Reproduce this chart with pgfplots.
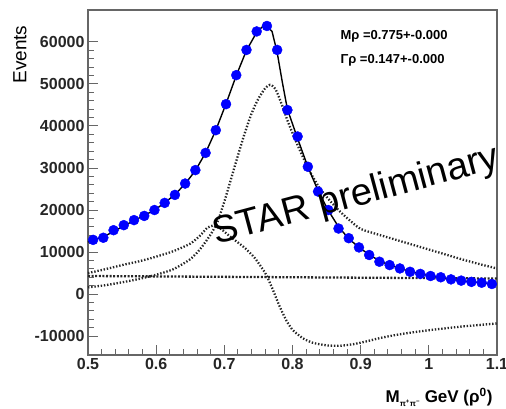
\documentclass[border=0pt]{standalone}
\usepackage{pgfplots}
\pgfplotsset{compat=1.18}
\usepackage{fontspec}
\setmainfont{Liberation Sans}

\pgfplotstableread{
x y
0.5075 12.9
0.5225 13.4
0.5375 15.2
0.5525 16.4
0.5675 17.6
0.5825 18.6
0.5975 20.0
0.6125 21.7
0.6275 23.6
0.6425 26.3
0.6575 29.5
0.6725 33.6
0.6875 39.0
0.7025 45.2
0.7175 52.1
0.7325 58.1
0.7475 62.5
0.7625 63.8
0.7775 58.1
0.7925 43.8
0.8075 37.5
0.8225 30.3
0.8375 24.4
0.8525 20.0
0.8675 15.6
0.8825 13.3
0.8975 11.1
0.9125 9.3
0.9275 7.7
0.9425 6.9
0.9575 6.1
0.9725 5.3
0.9875 4.8
1.0025 4.3
1.0175 4.0
1.0325 3.5
1.0475 3.2
1.0625 2.9
1.0775 2.7
1.0925 2.4
}\datatable

\pgfplotstableread{
x y
0.500 12.4
0.5075 12.9
0.5225 13.6
0.5375 14.9
0.5525 16.2
0.5675 17.5
0.5825 18.7
0.5975 20.0
0.6125 21.7
0.6275 23.7
0.6425 26.2
0.6575 29.4
0.6725 33.6
0.6875 39.0
0.7025 45.3
0.7175 52.0
0.7325 58.0
0.7475 62.3
0.755 63.5
0.7625 63.8
0.770 62.5
0.7775 57.5
0.785 50.5
0.7925 44.0
0.8075 37.0
0.8225 30.3
0.8375 24.6
0.8525 19.9
0.8675 16.0
0.8825 13.2
0.8975 11.1
0.9125 9.4
0.9275 7.9
0.9425 6.9
0.9575 6.1
0.9725 5.4
0.9875 4.8
1.0025 4.3
1.0175 3.9
1.0325 3.5
1.0475 3.2
1.0625 2.9
1.0775 2.7
1.0925 2.4
1.100 2.3
}\fittable

\pgfplotstableread{
x y
0.500 1.6
0.525 2.1
0.550 2.8
0.575 3.6
0.600 4.6
0.625 5.9
0.650 8.3
0.665 10.8
0.680 14.2
0.690 17.2
0.700 22.0
0.710 27.5
0.720 33.0
0.730 38.3
0.740 43.0
0.750 46.5
0.760 49.0
0.767 49.8
0.775 48.8
0.785 44.8
0.795 40.3
0.810 34.5
0.825 29.3
0.840 25.2
0.855 22.2
0.870 19.6
0.885 17.4
0.900 15.5
0.925 14.2
0.950 13.0
0.975 11.8
1.000 10.6
1.025 9.4
1.050 8.2
1.075 7.1
1.100 6.1
}\bwtable

\pgfplotstableread{
x y
0.500 5.0
0.525 5.9
0.550 6.9
0.575 7.8
0.600 8.9
0.625 10.2
0.650 12.0
0.665 14.0
0.675 15.8
0.685 16.3
0.695 15.5
0.710 13.5
0.730 11.0
0.745 8.5
0.760 5.0
0.770 1.5
0.780 -2.5
0.790 -6.0
0.800 -8.5
0.815 -10.5
0.830 -11.6
0.850 -12.2
0.870 -12.3
0.890 -11.9
0.910 -11.2
0.930 -10.4
0.960 -9.5
1.000 -8.6
1.050 -7.7
1.100 -7.0
}\inttable

\pgfplotstableread{
x y
0.5 4.3
0.6 4.2
0.7 4.1
0.8 4.0
0.9 3.9
1.0 3.8
1.1 3.7
}\bkgtable

\begin{document}
\begin{tikzpicture}
\useasboundingbox (-88pt,-53pt) rectangle (418pt,355pt);
\begin{axis}[
  at={(0pt,0pt)}, anchor=south west,
  scale only axis, width=409pt, height=345pt,
  xmin=0.5, xmax=1.1, ymin=-14.5, ymax=67.6,
  axis line style={black!60, line width=1.2pt},
  every tick/.style={black!60, line width=1pt},
  tick align=inside, xtick pos=bottom, ytick pos=left,
  major tick length=10pt, minor tick length=6pt,
  xtick={0.5,0.6,0.7,0.8,0.9,1.0,1.1},
  xticklabels={0.5,0.6,0.7,0.8,0.9,1,1.1},
  minor x tick num=4,
  ytick={-10,0,10,20,30,40,50,60},
  yticklabels={-10000,0,10000,20000,30000,40000,50000,60000},
  minor y tick num=4,
  ticklabel style={font=\bfseries\fontsize{16}{16}\selectfont, text=black!85},
]
\addplot[black!85, line width=2.3pt, dash pattern=on 1.4pt off 1.8pt, smooth, tension=0.4] table[x=x,y=y] {\bwtable};
\addplot[black!85, line width=2.3pt, dash pattern=on 1.4pt off 1.8pt, smooth, tension=0.4] table[x=x,y=y] {\inttable};
\addplot[black!85, line width=2.3pt, dash pattern=on 2pt off 1.6pt] table[x=x,y=y] {\bkgtable};
\addplot[black, line width=1.4pt] table[x=x,y=y] {\fittable};
\addplot[only marks, mark=*, mark size=5pt, color=blue, fill=blue] table[x=x,y=y] {\datatable};
\end{axis}
\node[rotate=90, anchor=east, font=\fontsize{19}{19}\selectfont] at (-68pt,333pt) {Events};
\node[anchor=east, font=\bfseries\fontsize{17}{17}\selectfont] at (408pt,-42pt)
  {M\raisebox{-0.4ex}{\fontsize{8}{8}\selectfont π\textsuperscript{+}π\textsuperscript{−}} GeV (ρ\textsuperscript{0})};
\node[anchor=base west, font=\bfseries\fontsize{13}{13}\selectfont] at (249pt,316pt) {Mρ =0.775+-0.000};
\node[anchor=base west, font=\bfseries\fontsize{13}{13}\selectfont] at (249pt,292pt) {Γρ =0.147+-0.000};
\node[rotate=15, anchor=base west, font=\fontsize{38}{38}\selectfont] at (125pt,110pt) {STAR preliminary};
\end{tikzpicture}
\end{document}
